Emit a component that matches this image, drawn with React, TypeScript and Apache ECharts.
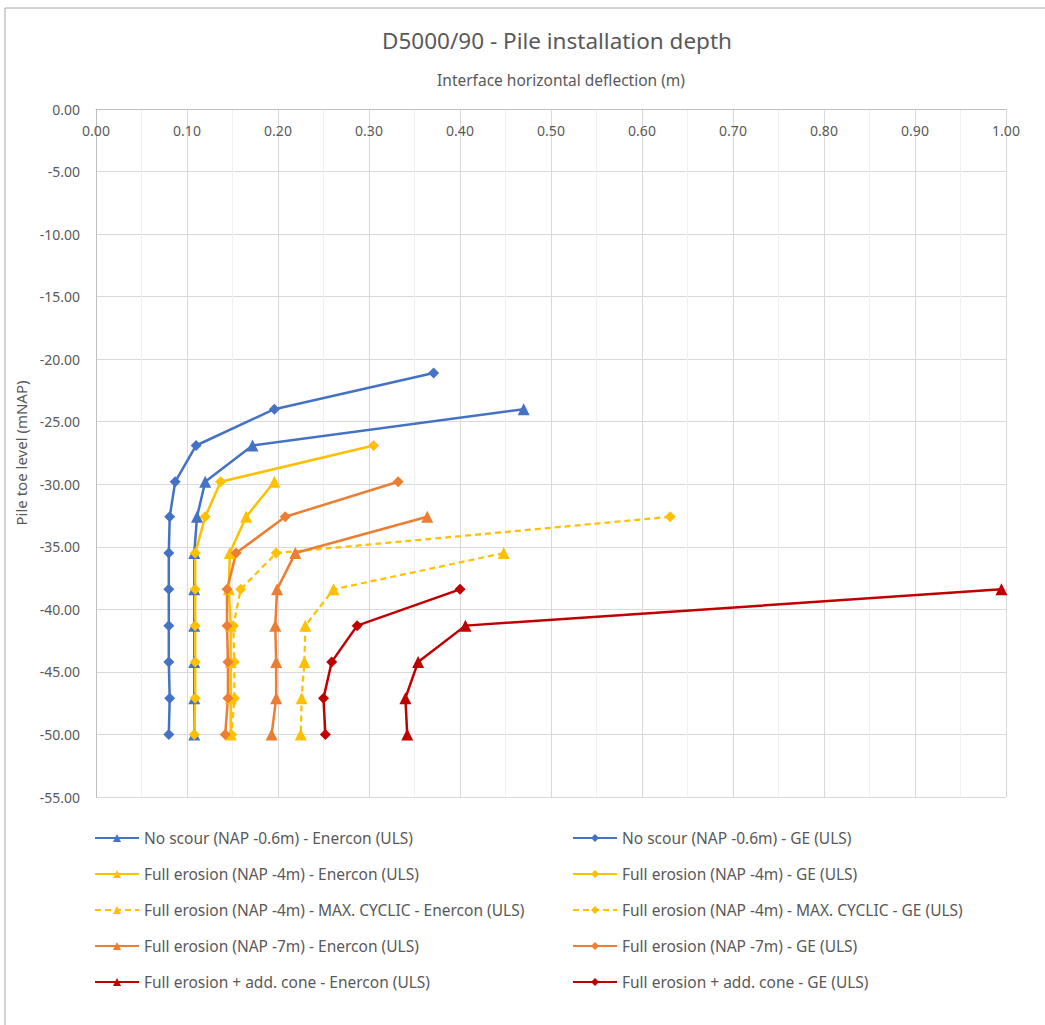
import React, { useEffect, useRef } from "react";
import * as echarts from "echarts";

// Pile toe levels (mNAP)
const DEPTHS = [-21.1, -24.0, -26.9, -29.8, -32.6, -35.5, -38.4, -41.3, -44.2, -47.1, -50.0];

// Interface horizontal deflection (m), aligned with the deepest DEPTHS entries
const noScourEnercon = [0.470, 0.172, 0.120, 0.111, 0.108, 0.108, 0.108, 0.108, 0.108, 0.108];
const noScourGE = [0.371, 0.196, 0.110, 0.087, 0.081, 0.080, 0.080, 0.080, 0.080, 0.081, 0.080];
const erosion4Enercon = [0.196, 0.165, 0.147, 0.146, 0.148, 0.148, 0.148, 0.148];
const erosion4GE = [0.305, 0.137, 0.120, 0.109, 0.109, 0.109, 0.109, 0.109, 0.108];
const cyclic4Enercon = [0.448, 0.261, 0.230, 0.229, 0.226, 0.225];
const cyclic4GE = [0.631, 0.198, 0.159, 0.151, 0.152, 0.152, 0.149];
const erosion7Enercon = [0.364, 0.219, 0.199, 0.197, 0.198, 0.198, 0.193];
const erosion7GE = [0.332, 0.208, 0.154, 0.144, 0.144, 0.145, 0.145, 0.142];
const coneEnercon = [0.995, 0.406, 0.354, 0.340, 0.342];
const coneGE = [0.400, 0.287, 0.259, 0.250, 0.252];

const NAMES_LEFT = [
  "No scour (NAP -0.6m) - Enercon (ULS)",
  "Full erosion (NAP -4m) - Enercon (ULS)",
  "Full erosion (NAP -4m) - MAX. CYCLIC - Enercon (ULS)",
  "Full erosion (NAP -7m) - Enercon (ULS)",
  "Full erosion + add. cone - Enercon (ULS)",
];
const NAMES_RIGHT = [
  "No scour (NAP -0.6m) - GE (ULS)",
  "Full erosion (NAP -4m) - GE (ULS)",
  "Full erosion (NAP -4m) - MAX. CYCLIC - GE (ULS)",
  "Full erosion (NAP -7m) - GE (ULS)",
  "Full erosion + add. cone - GE (ULS)",
];

const BLUE = "#4472C4";
const YELLOW = "#FFC000";
const ORANGE = "#ED7D31";
const RED = "#C00000";
const TEXT = "#595959";
const FONT = "'Noto Sans', 'Open Sans', sans-serif";

function pairs(xs: number[]) {
  const off = DEPTHS.length - xs.length;
  return xs.map((x, i) => [x, DEPTHS[off + i]]);
}

function mk(name: string, xs: number[], color: string, symbol: string, dashed: boolean) {
  return {
    name,
    type: "line",
    data: pairs(xs),
    symbol,
    symbolSize: symbol === "triangle" ? 12 : 11,
    itemStyle: { color },
    lineStyle: { color, width: dashed ? 2.25 : 2.5, type: dashed ? [6, 4] : "solid" },
    z: 3,
  };
}

export default function App() {
  const ref = useRef<HTMLDivElement>(null);
  useEffect(() => {
    document.body.style.margin = "0";
    if (!ref.current) return;
    const chart = echarts.init(ref.current, undefined, { renderer: "svg" });
    const legendCommon = {
      orient: "vertical",
      top: 829,
      padding: 0,
      itemWidth: 44,
      itemHeight: 10,
      itemGap: 18,
      itemTextGap: 4,
      textStyle: { color: TEXT, fontSize: 15.5, fontFamily: FONT, lineHeight: 18 },
      selectedMode: false,
    };
    chart.setOption({
      animation: false,
      backgroundColor: "#fff",
      title: [
        {
          text: "D5000/90 - Pile installation depth",
          left: 557,
          top: 29,
          padding: 0,
          textAlign: "center",
          textStyle: { color: TEXT, fontSize: 22.5, fontWeight: "normal", fontFamily: FONT },
        },
        {
          text: "Interface horizontal deflection (m)",
          left: 561,
          top: 72,
          padding: 0,
          textAlign: "center",
          textStyle: { color: TEXT, fontSize: 15.5, fontWeight: "normal", fontFamily: FONT },
        },
      ],
      graphic: [
        {
          type: "rect",
          shape: { x: 5, y: 8, width: 1200, height: 1200 },
          style: { fill: "none", stroke: "#a6a6a6", lineWidth: 1 },
          silent: true,
        },
      ],
      grid: { left: 96, right: 39, top: 109, height: 688, containLabel: false },
      xAxis: {
        type: "value",
        position: "top",
        min: 0,
        max: 1,
        interval: 0.1,
        axisLine: { show: true, lineStyle: { color: "#bfbfbf", width: 1 } },
        axisTick: { show: false },
        axisLabel: {
          inside: true,
          margin: 14,
          color: TEXT,
          fontSize: 14,
          fontFamily: FONT,
          formatter: (v: number) => v.toFixed(2),
        },
        splitLine: { show: true, lineStyle: { color: "#d9d9d9", width: 1 } },
        minorTick: { show: false, splitNumber: 2 },
        minorSplitLine: { show: true, lineStyle: { color: "#f0f0f0", width: 1 } },
      },
      yAxis: {
        type: "value",
        min: -55,
        max: 0,
        interval: 5,
        name: "Pile toe level (mNAP)",
        nameLocation: "middle",
        nameGap: 66,
        nameRotate: 90,
        nameTextStyle: { color: TEXT, fontSize: 15, fontFamily: FONT },
        axisLine: { show: true, lineStyle: { color: "#bfbfbf", width: 1 } },
        axisTick: { show: false },
        axisLabel: {
          margin: 16,
          color: TEXT,
          fontSize: 14,
          fontFamily: FONT,
          formatter: (v: number) => v.toFixed(2),
        },
        splitLine: { show: true, lineStyle: { color: "#d9d9d9", width: 1 } },
      },
      legend: [
        { ...legendCommon, left: 94, data: NAMES_LEFT },
        { ...legendCommon, left: 572, data: NAMES_RIGHT },
      ],
      series: [
        mk(NAMES_LEFT[0], noScourEnercon, BLUE, "triangle", false),
        mk(NAMES_RIGHT[0], noScourGE, BLUE, "diamond", false),
        mk(NAMES_LEFT[1], erosion4Enercon, YELLOW, "triangle", false),
        mk(NAMES_RIGHT[1], erosion4GE, YELLOW, "diamond", false),
        mk(NAMES_LEFT[2], cyclic4Enercon, YELLOW, "triangle", true),
        mk(NAMES_RIGHT[2], cyclic4GE, YELLOW, "diamond", true),
        mk(NAMES_LEFT[3], erosion7Enercon, ORANGE, "triangle", false),
        mk(NAMES_RIGHT[3], erosion7GE, ORANGE, "diamond", false),
        mk(NAMES_LEFT[4], coneEnercon, RED, "triangle", false),
        mk(NAMES_RIGHT[4], coneGE, RED, "diamond", false),
      ],
    });
    return () => chart.dispose();
  }, []);
  return <div ref={ref} style={{ width: 1045, height: 1025 }} />;
}
